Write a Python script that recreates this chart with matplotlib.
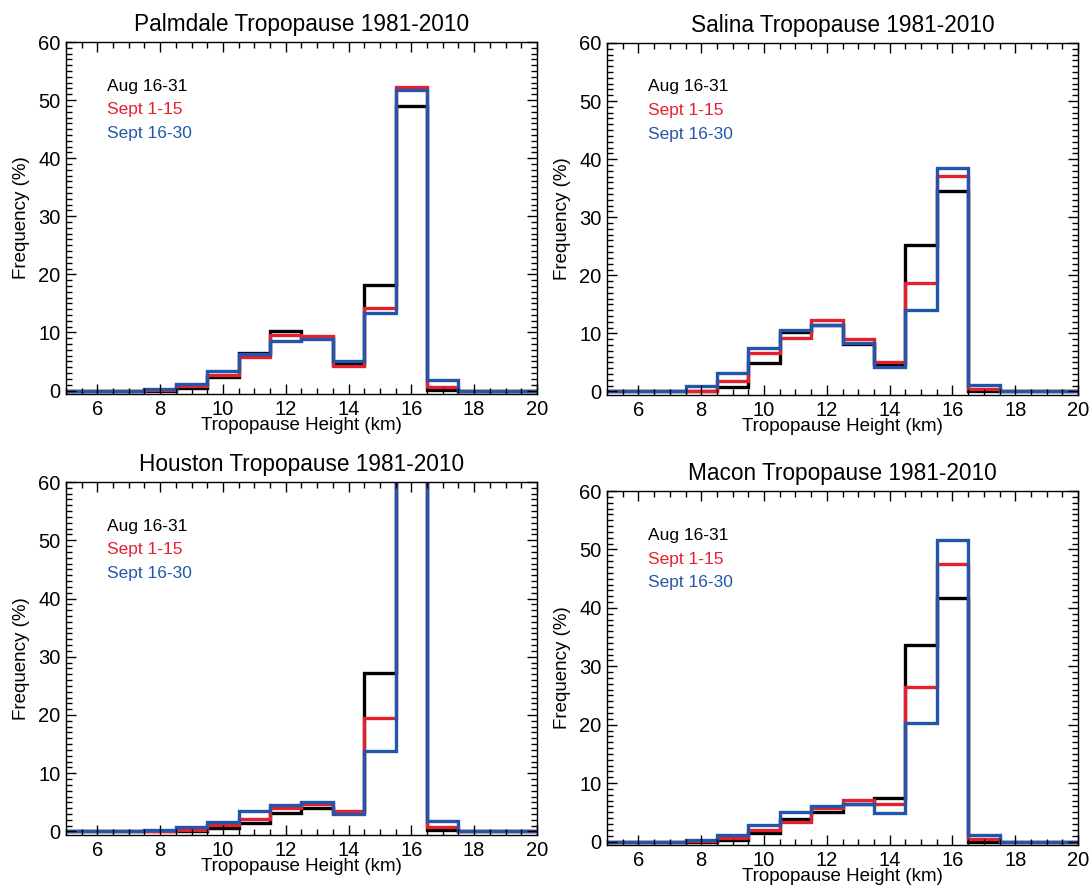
import numpy as np
import matplotlib
matplotlib.use("Agg")
import matplotlib.pyplot as plt
from matplotlib.ticker import MultipleLocator

plt.rcParams['font.family'] = ["Liberation Sans", "DejaVu Sans"]

# bin centres (km), one bin per km
heights = np.arange(5, 21)
edges = np.arange(4.5, 21.5, 1.0)

period_labels = ["Aug 16-31", "Sept 1-15", "Sept 16-30"]
period_colors = ["black", "#e5202e", "#2356ab"]

# frequency (%) per bin, heights 5..20
palmdale_aug = [0, 0, 0, 0, 0.45, 2.3, 6.5, 10.2, 9.1, 4.5, 18.2, 48.9, 0.1, 0, 0, 0]
palmdale_sep1 = [0, 0, 0, 0.1, 0.85, 2.7, 5.7, 9.5, 9.4, 4.3, 14.2, 52.2, 0.6, 0, 0, 0]
palmdale_sep2 = [0, 0, 0, 0.3, 1.1, 3.4, 6.25, 8.5, 8.8, 5.1, 13.4, 51.8, 1.8, 0, 0, 0]

salina_aug = [0, 0, 0, 0, 0.8, 4.9, 10.2, 11.4, 8.1, 4.7, 25.2, 34.5, 0.1, 0, 0, 0]
salina_sep1 = [0, 0, 0, 0.1, 1.8, 6.6, 9.2, 12.3, 9.0, 5.0, 18.7, 37.1, 0.4, 0, 0, 0]
salina_sep2 = [0, 0, 0, 0.9, 3.2, 7.5, 10.6, 11.5, 8.4, 4.3, 14.1, 38.5, 1.2, 0, 0, 0]

houston_aug = [0, 0, 0, 0, 0, 0.6, 1.4, 3.1, 4.1, 3.4, 27.2, 60.5, 0.3, 0, 0, 0]
houston_sep1 = [0, 0, 0, 0.1, 0.3, 1.1, 2.1, 4.1, 4.8, 3.6, 19.4, 63.8, 0.7, 0, 0, 0]
houston_sep2 = [0, 0, 0, 0.3, 0.7, 1.6, 3.5, 4.6, 5.0, 3.0, 13.9, 65.2, 1.85, 0, 0, 0]

macon_aug = [0, 0, 0, 0, 0.2, 1.5, 3.8, 5.1, 6.4, 7.4, 33.6, 41.7, 0, 0, 0, 0]
macon_sep1 = [0, 0, 0, 0.05, 0.6, 2.0, 3.3, 5.7, 7.1, 6.4, 26.4, 47.5, 0.35, 0, 0, 0]
macon_sep2 = [0, 0, 0, 0.3, 1.1, 2.8, 5.0, 6.0, 6.4, 4.8, 20.3, 51.7, 1.2, 0, 0, 0]

stations = ["Palmdale", "Salina", "Houston", "Macon"]
station_data = [
    [palmdale_aug, palmdale_sep1, palmdale_sep2],
    [salina_aug, salina_sep1, salina_sep2],
    [houston_aug, houston_sep1, houston_sep2],
    [macon_aug, macon_sep1, macon_sep2],
]

# axes rectangles [left, bottom, width, height] in figure fraction
panel_rects = [
    [0.0604, 0.5563, 0.4313, 0.3964],
    [0.5559, 0.5552, 0.4313, 0.3964],
    [0.0604, 0.0597, 0.4313, 0.3975],
    [0.5559, 0.0484, 0.4313, 0.3986],
]

fig = plt.figure(figsize=(10.92, 8.88), dpi=100)

for name, series, rect in zip(stations, station_data, panel_rects):
    ax = fig.add_axes(rect)
    for vals, color in zip(series, period_colors):
        ax.stairs(vals, edges, baseline=None, color=color, linewidth=2.4)

    ax.set_xlim(5, 20)
    ax.set_ylim(-0.6, 60)
    # no label at x=5 on the left edge
    ax.set_xticks(np.arange(6, 21, 2))
    ax.xaxis.set_minor_locator(MultipleLocator(0.5))
    ax.yaxis.set_major_locator(MultipleLocator(10))
    ax.yaxis.set_minor_locator(MultipleLocator(1))
    ax.tick_params(which="both", direction="in", top=True, right=True,
                   width=1.0, color="black", labelsize=14.5)
    ax.tick_params(which="major", length=7)
    ax.tick_params(which="minor", length=4)
    ax.tick_params(axis="x", which="major", pad=4)
    ax.tick_params(axis="y", which="major", pad=4)
    for sp in ax.spines.values():
        sp.set_linewidth(1.0)

    ax.set_title(f"{name} Tropopause 1981-2010", fontsize=16.3, pad=8)
    ax.set_xlabel("Tropopause Height (km)", fontsize=13.5, labelpad=-1)
    ax.set_ylabel("Frequency (%)", fontsize=13.5, labelpad=6)

    for i, (lab, color) in enumerate(zip(period_labels, period_colors)):
        ax.text(0.087, 0.875 - i * 0.067, lab, color=color, fontsize=12.5,
                transform=ax.transAxes, va="center", ha="left")

fig.savefig("out.png", dpi=100)
